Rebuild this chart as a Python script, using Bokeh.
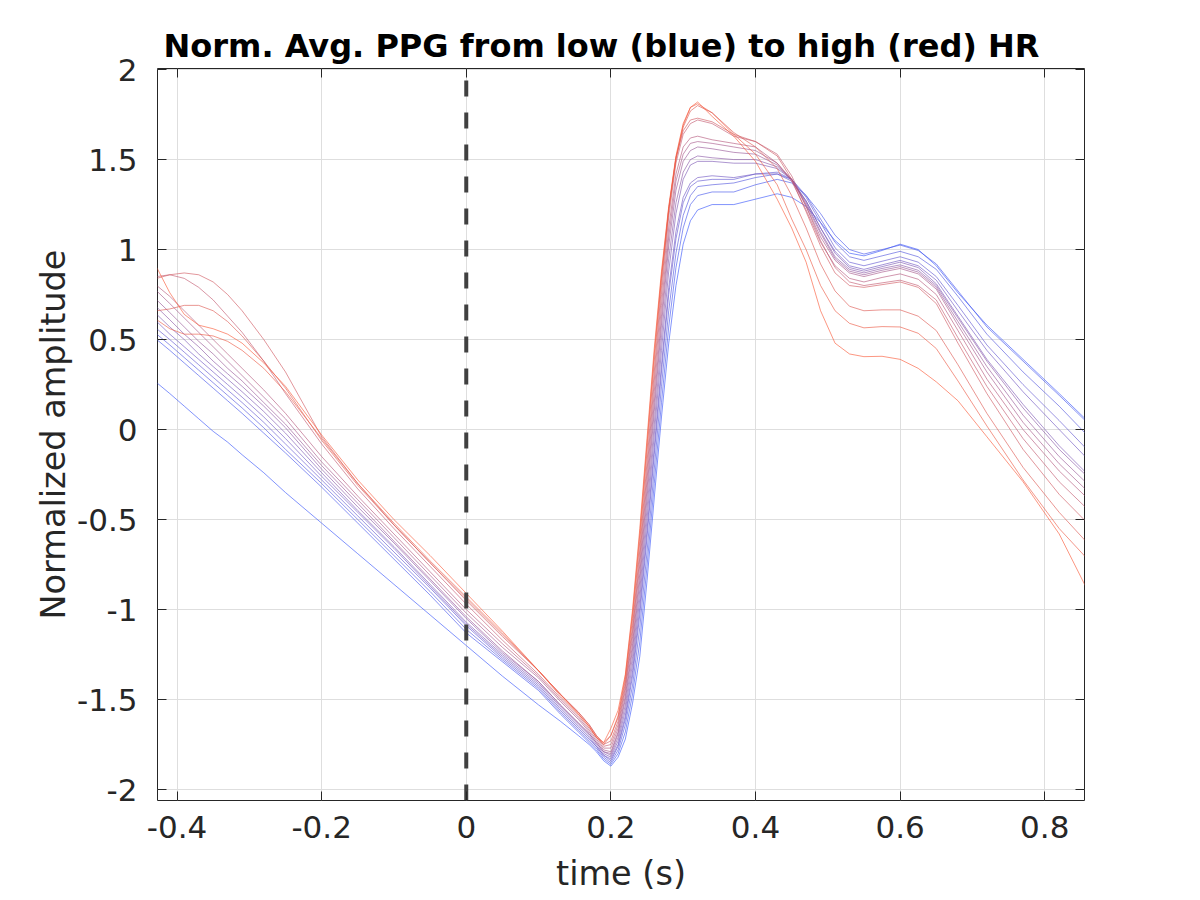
from bokeh.plotting import figure
from bokeh.models import FixedTicker, LinearAxis, Range1d
from bokeh.embed import file_html
from bokeh.resources import INLINE

# ---------------- data ----------------
time_s = [-0.428, -0.41, -0.39, -0.37, -0.35, -0.33, -0.31, -0.28, -0.25, -0.20,
          -0.15, -0.10, -0.05, 0.00, 0.05, 0.10, 0.13, 0.155, 0.17, 0.18,
          0.19, 0.20, 0.21, 0.22, 0.23, 0.24, 0.25, 0.26, 0.27, 0.28, 0.29, 0.30, 0.31, 0.32,
          0.34, 0.37, 0.40, 0.43, 0.45, 0.47, 0.49, 0.51, 0.53, 0.55, 0.575, 0.60, 0.625, 0.65,
          0.68, 0.72, 0.77, 0.82, 0.856]

# curves ordered from low HR (blue) to high HR (red)
hr01 = [0.26, 0.20, 0.13, 0.06, -0.01, -0.07, -0.14, -0.24, -0.35, -0.52, -0.69, -0.86, -1.03, -1.20, -1.37, -1.53, -1.62, -1.70, -1.75, -1.79,
        -1.84, -1.87, -1.82, -1.72, -1.52, -1.26, -0.84, -0.38, 0.07, 0.48, 0.80, 1.03, 1.16, 1.22,
        1.25, 1.25, 1.28, 1.31, 1.29, 1.24, 1.15, 1.05, 0.98, 0.965, 0.995, 1.03, 1.00, 0.91, 0.76, 0.58, 0.39, 0.20, 0.06]
hr02 = [0.50, 0.44, 0.37, 0.30, 0.23, 0.16, 0.09, -0.02, -0.13, -0.32, -0.52, -0.72, -0.92, -1.13, -1.29, -1.45, -1.58, -1.68, -1.74, -1.78,
        -1.83, -1.86, -1.80, -1.68, -1.47, -1.18, -0.76, -0.30, 0.15, 0.57, 0.90, 1.12, 1.25, 1.30,
        1.32, 1.32, 1.36, 1.39, 1.37, 1.30, 1.20, 1.08, 1.00, 0.975, 1.00, 1.025, 0.995, 0.92, 0.77, 0.57, 0.38, 0.19, 0.05]
hr03 = [0.53, 0.47, 0.40, 0.33, 0.26, 0.19, 0.12, 0.01, -0.11, -0.30, -0.50, -0.70, -0.90, -1.11, -1.28, -1.44, -1.57, -1.67, -1.73, -1.77,
        -1.82, -1.85, -1.78, -1.64, -1.42, -1.10, -0.68, -0.22, 0.24, 0.66, 0.98, 1.19, 1.30, 1.35,
        1.36, 1.37, 1.40, 1.42, 1.39, 1.30, 1.17, 1.04, 0.96, 0.94, 0.965, 0.99, 0.96, 0.89, 0.74, 0.53, 0.32, 0.13, -0.02]
hr04 = [0.56, 0.50, 0.43, 0.36, 0.29, 0.22, 0.15, 0.04, -0.08, -0.28, -0.48, -0.68, -0.88, -1.09, -1.27, -1.43, -1.56, -1.66, -1.72, -1.76,
        -1.81, -1.84, -1.76, -1.61, -1.37, -1.03, -0.60, -0.14, 0.32, 0.75, 1.06, 1.26, 1.35, 1.38,
        1.39, 1.39, 1.42, 1.43, 1.39, 1.29, 1.15, 1.01, 0.93, 0.91, 0.935, 0.96, 0.93, 0.85, 0.69, 0.47, 0.25, 0.05, -0.10]
hr05 = [0.60, 0.53, 0.46, 0.39, 0.32, 0.25, 0.18, 0.07, -0.05, -0.26, -0.46, -0.66, -0.87, -1.08, -1.26, -1.42, -1.55, -1.65, -1.71, -1.76,
        -1.81, -1.83, -1.75, -1.59, -1.34, -0.99, -0.56, -0.10, 0.36, 0.79, 1.10, 1.29, 1.37, 1.40,
        1.41, 1.40, 1.42, 1.42, 1.38, 1.27, 1.12, 0.99, 0.91, 0.89, 0.915, 0.94, 0.91, 0.83, 0.66, 0.44, 0.21, 0.00, -0.15]
hr06 = [0.64, 0.57, 0.50, 0.42, 0.35, 0.28, 0.21, 0.10, -0.02, -0.24, -0.45, -0.65, -0.86, -1.07, -1.25, -1.41, -1.54, -1.64, -1.70, -1.75,
        -1.80, -1.82, -1.73, -1.56, -1.30, -0.94, -0.50, -0.03, 0.44, 0.88, 1.20, 1.39, 1.47, 1.49,
        1.49, 1.48, 1.48, 1.45, 1.39, 1.27, 1.12, 0.98, 0.90, 0.88, 0.905, 0.93, 0.90, 0.81, 0.63, 0.39, 0.14, -0.09, -0.235]
hr07 = [0.68, 0.61, 0.53, 0.46, 0.38, 0.31, 0.24, 0.13, 0.01, -0.22, -0.43, -0.63, -0.84, -1.05, -1.24, -1.40, -1.53, -1.63, -1.69, -1.74,
        -1.79, -1.81, -1.71, -1.53, -1.26, -0.89, -0.44, 0.03, 0.51, 0.95, 1.26, 1.43, 1.50, 1.52,
        1.51, 1.50, 1.50, 1.46, 1.39, 1.26, 1.10, 0.96, 0.89, 0.87, 0.895, 0.915, 0.885, 0.80, 0.62, 0.38, 0.12, -0.11, -0.25]
hr08 = [0.72, 0.65, 0.57, 0.49, 0.42, 0.34, 0.27, 0.15, 0.03, -0.20, -0.41, -0.62, -0.83, -1.04, -1.23, -1.40, -1.53, -1.63, -1.69, -1.74,
        -1.79, -1.80, -1.69, -1.50, -1.22, -0.84, -0.38, 0.10, 0.58, 1.02, 1.33, 1.49, 1.55, 1.57,
        1.56, 1.54, 1.53, 1.47, 1.39, 1.25, 1.09, 0.95, 0.88, 0.86, 0.885, 0.905, 0.875, 0.79, 0.60, 0.35, 0.08, -0.15, -0.29]
hr09 = [0.77, 0.70, 0.62, 0.54, 0.46, 0.38, 0.30, 0.18, 0.06, -0.18, -0.39, -0.60, -0.81, -1.02, -1.21, -1.38, -1.51, -1.61, -1.68, -1.73,
        -1.78, -1.79, -1.68, -1.48, -1.19, -0.80, -0.33, 0.15, 0.63, 1.07, 1.38, 1.53, 1.59, 1.60,
        1.59, 1.57, 1.55, 1.48, 1.39, 1.24, 1.07, 0.94, 0.87, 0.85, 0.875, 0.895, 0.865, 0.78, 0.58, 0.32, 0.04, -0.19, -0.33]
hr10 = [0.80, 0.74, 0.66, 0.58, 0.50, 0.42, 0.34, 0.22, 0.09, -0.15, -0.37, -0.58, -0.79, -1.00, -1.19, -1.37, -1.50, -1.60, -1.67, -1.72,
        -1.77, -1.77, -1.66, -1.45, -1.15, -0.75, -0.28, 0.21, 0.69, 1.12, 1.42, 1.57, 1.62, 1.63,
        1.61, 1.59, 1.57, 1.48, 1.38, 1.22, 1.04, 0.91, 0.84, 0.82, 0.845, 0.865, 0.835, 0.75, 0.55, 0.28, 0.00, -0.23, -0.37]
hr11 = [0.85, 0.86, 0.84, 0.79, 0.72, 0.63, 0.54, 0.38, 0.20, -0.08, -0.33, -0.55, -0.76, -0.97, -1.17, -1.36, -1.49, -1.59, -1.66, -1.71,
        -1.76, -1.75, -1.64, -1.43, -1.12, -0.71, -0.23, 0.27, 0.75, 1.18, 1.48, 1.64, 1.70, 1.72,
        1.70, 1.63, 1.60, 1.53, 1.41, 1.24, 1.05, 0.90, 0.82, 0.80, 0.815, 0.83, 0.80, 0.72, 0.51, 0.24, -0.05, -0.29, -0.43]
hr12 = [0.84, 0.86, 0.87, 0.86, 0.82, 0.75, 0.66, 0.50, 0.32, -0.04, -0.30, -0.53, -0.74, -0.95, -1.15, -1.34, -1.47, -1.57, -1.64, -1.70,
        -1.75, -1.73, -1.62, -1.41, -1.09, -0.67, -0.18, 0.32, 0.80, 1.22, 1.51, 1.66, 1.72, 1.73,
        1.71, 1.64, 1.60, 1.52, 1.39, 1.21, 1.02, 0.87, 0.80, 0.79, 0.805, 0.82, 0.79, 0.70, 0.48, 0.20, -0.11, -0.36, -0.507]
hr13 = [0.66, 0.67, 0.69, 0.69, 0.66, 0.60, 0.52, 0.38, 0.23, -0.06, -0.31, -0.53, -0.74, -0.94, -1.14, -1.34, -1.47, -1.57, -1.64, -1.70,
        -1.74, -1.70, -1.60, -1.39, -1.05, -0.62, -0.12, 0.38, 0.84, 1.22, 1.50, 1.68, 1.77, 1.80,
        1.76, 1.65, 1.57, 1.45, 1.30, 1.12, 0.92, 0.77, 0.685, 0.66, 0.665, 0.665, 0.63, 0.55, 0.36, 0.09, -0.21, -0.46, -0.617]
hr14 = [0.61, 0.56, 0.53, 0.53, 0.52, 0.49, 0.44, 0.34, 0.21, -0.05, -0.30, -0.52, -0.73, -0.93, -1.13, -1.34, -1.48, -1.58, -1.65, -1.71,
        -1.75, -1.70, -1.59, -1.37, -1.02, -0.58, -0.08, 0.42, 0.86, 1.23, 1.51, 1.69, 1.79, 1.81,
        1.76, 1.64, 1.53, 1.36, 1.17, 1.00, 0.80, 0.66, 0.59, 0.565, 0.572, 0.57, 0.535, 0.45, 0.27, 0.02, -0.28, -0.55, -0.706]
hr15 = [0.90, 0.76, 0.64, 0.58, 0.56, 0.53, 0.48, 0.37, 0.24, -0.03, -0.28, -0.50, -0.70, -0.91, -1.12, -1.34, -1.47, -1.58, -1.65, -1.71,
        -1.74, -1.66, -1.56, -1.36, -1.00, -0.55, -0.05, 0.45, 0.88, 1.24, 1.52, 1.70, 1.79, 1.82,
        1.74, 1.63, 1.49, 1.28, 1.12, 0.93, 0.66, 0.48, 0.42, 0.405, 0.407, 0.39, 0.34, 0.265, 0.16, -0.04, -0.29, -0.58, -0.867]

curves = [hr01, hr02, hr03, hr04, hr05, hr06, hr07, hr08, hr09, hr10, hr11, hr12, hr13, hr14, hr15]

x_ticks = [-0.4, -0.2, 0, 0.2, 0.4, 0.6, 0.8]
x_tick_labels = ["-0.4", "-0.2", "0", "0.2", "0.4", "0.6", "0.8"]
y_ticks = [-2, -1.5, -1, -0.5, 0, 0.5, 1, 1.5, 2]
y_tick_labels = ["-2", "-1.5", "-1", "-0.5", "0", "0.5", "1", "1.5", "2"]
marker_time = [0, 0]
marker_level = [-2.061, 2.006]

# ---------------- figure ----------------
FONT = "DejaVu Sans"
INK = "#262626"

p = figure(width=1184, height=900, output_backend="svg", toolbar_location=None,
           x_range=Range1d(-0.427, 0.855), y_range=Range1d(-2.061, 2.006),
           min_border_left=157, min_border_right=100, min_border_top=68, min_border_bottom=100,
           background_fill_color="white", border_fill_color="white")

p.outline_line_color = INK
p.outline_line_width = 1

p.title.text = "Norm. Avg. PPG from low (blue) to high (red) HR"
p.title.text_font = FONT
p.title.text_font_style = "bold"
p.title.text_font_size = "32px"
p.title.text_color = "black"
p.title.align = "left"
p.title.offset = 6
p.title.standoff = 7

def style_axis(ax, show_labels):
    ax.axis_line_color = None
    ax.major_tick_in = 9
    ax.major_tick_out = 0
    ax.minor_tick_line_color = None
    ax.major_tick_line_color = INK
    ax.major_tick_line_width = 1
    if show_labels:
        ax.major_label_text_font = FONT
        ax.major_label_text_font_size = "31px"
        ax.major_label_text_color = INK
        ax.axis_label_text_font = FONT
        ax.axis_label_text_font_size = "33.5px"
        ax.axis_label_text_font_style = "normal"
        ax.axis_label_text_color = INK
    else:
        ax.major_label_text_font_size = "1px"
        ax.major_label_text_color = None
        ax.major_label_standoff = 0

xt = FixedTicker(ticks=x_ticks)
yt = FixedTicker(ticks=y_ticks)

p.xaxis.ticker = xt
p.yaxis.ticker = yt
p.xaxis.major_label_overrides = dict(zip(x_ticks, x_tick_labels))
p.yaxis.major_label_overrides = dict(zip(y_ticks, y_tick_labels))
p.xaxis.axis_label = "time (s)"
p.yaxis.axis_label = "Normalized amplitude"
for ax in p.xaxis + p.yaxis:
    style_axis(ax, True)
p.xaxis.major_label_standoff = 15
p.yaxis.major_label_standoff = 20
p.xaxis.axis_label_standoff = 13
p.yaxis.axis_label_standoff = 1

top_ax = LinearAxis(ticker=xt)
right_ax = LinearAxis(ticker=yt)
style_axis(top_ax, False)
style_axis(right_ax, False)
p.add_layout(top_ax, "above")
p.add_layout(right_ax, "right")

p.xgrid.ticker = xt
p.ygrid.ticker = yt
p.grid.grid_line_color = "#dedede"
p.grid.grid_line_width = 1

# colours from blue (low HR) to red (high HR)
blue = (55, 85, 250)
red = (250, 90, 55)
n = len(curves)
for i, vals in enumerate(curves):
    c = i / (n - 1)
    rgb = tuple(int(round(blue[j] * (1 - c) + red[j] * c)) for j in range(3))
    col = "#%02x%02x%02x" % rgb
    p.line(time_s, vals, line_color=col, line_width=0.9, line_alpha=0.7)

p.line(marker_time, marker_level, line_color="#404040", line_width=4, line_dash="16 16")

open("out.html", "w").write(file_html(p, INLINE))
